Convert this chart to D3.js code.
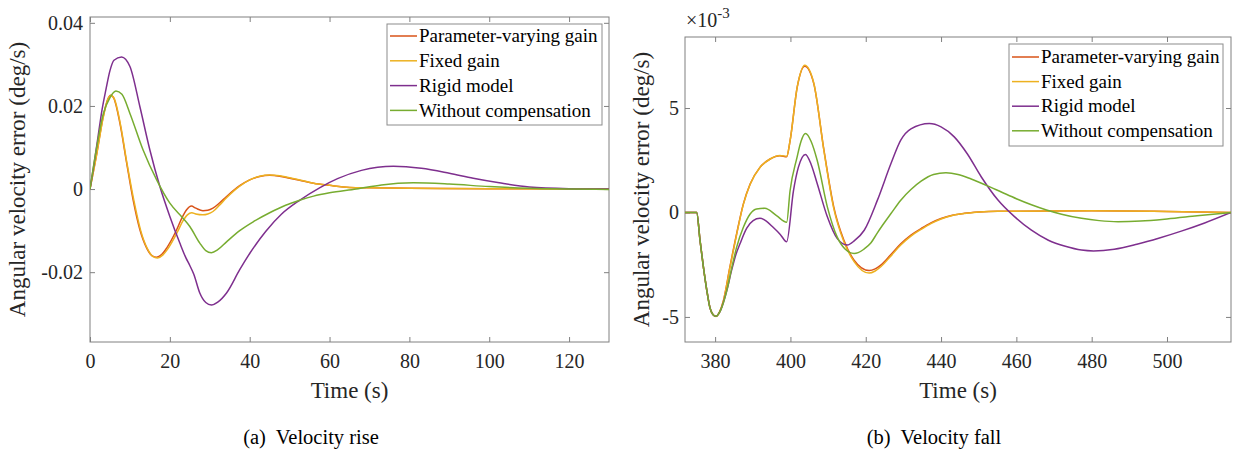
<!DOCTYPE html>
<html>
<head>
<meta charset="utf-8">
<script src="https://cdn.jsdelivr.net/npm/d3@7/dist/d3.min.js"></script>
<style>
  html, body { margin: 0; padding: 0; background: #fff; }
  svg { display: block; }
</style>
</head>
<body>
<svg id="chart" width="1234" height="455"></svg>
<script>
// ---------------- DATA ----------------
const seriesNames = ["Parameter-varying gain", "Fixed gain", "Rigid model", "Without compensation"];
const seriesColors = ["#D95319", "#EDB120", "#7E2F8E", "#77AC30"];

// (a) Velocity rise : [time (s), error (deg/s)]
const risePV = [[0,0],[1.7,0.0086],[3.3,0.0174],[4.4,0.0215],[5.2,0.0226],[6,0.0218],[7.5,0.0158],[9.2,0.0062],[10.8,-0.0026],[12.5,-0.0098],[14.2,-0.0142],[15.5,-0.016],[16.7,-0.0164],[18,-0.0157],[19.2,-0.0142],[21.7,-0.0098],[23,-0.007],[24.2,-0.005],[25.4,-0.0041],[26.5,-0.0046],[28.3,-0.0052],[29.5,-0.0051],[30.8,-0.0046],[32.5,-0.0033],[34.2,-0.0018],[37.5,0.0008],[40,0.0022],[42.5,0.003],[45,0.0033],[47.5,0.0031],[50,0.0026],[52.5,0.0021],[56,0.0014],[60,0.0009],[65,0.0004],[70,0.0003],[80,0.0002],[100,0.0001],[130,0]];
const riseFG = [[0,0],[1.7,0.0084],[3.3,0.0172],[4.4,0.0214],[5.3,0.0225],[6.1,0.0217],[7.6,0.0157],[9.3,0.006],[11,-0.0028],[12.7,-0.01],[14.4,-0.0144],[15.7,-0.0162],[16.9,-0.0166],[18.2,-0.0159],[19.4,-0.0145],[21.9,-0.0103],[23.2,-0.0078],[24.4,-0.0062],[25.5,-0.0057],[26.5,-0.006],[28.3,-0.0062],[29.5,-0.006],[30.8,-0.0054],[32.5,-0.0038],[34.2,-0.0021],[37.5,0.0007],[40,0.0022],[42.5,0.0031],[45,0.0034],[47.5,0.0032],[50,0.0027],[52.5,0.0022],[56,0.0014],[60,0.0009],[65,0.0004],[70,0.0003],[80,0.0002],[100,0.0001],[130,0]];
const riseRigid = [[0,0],[1,0.006],[2,0.0125],[3,0.019],[4,0.024],[5,0.0285],[6,0.031],[7.9,0.0318],[10,0.0295],[12.5,0.0198],[15,0.0094],[17.5,0.0006],[20,-0.0066],[22.5,-0.013],[24,-0.0165],[25,-0.0184],[26,-0.0205],[27.5,-0.025],[29,-0.0273],[30.4,-0.0279],[32,-0.0272],[34.2,-0.025],[37.5,-0.0194],[40,-0.0155],[44,-0.0102],[48,-0.006],[52.5,-0.0027],[57.5,0.0003],[62,0.0025],[68,0.0045],[76,0.0055],[83,0.005],[90,0.0038],[96,0.0026],[102.5,0.0015],[110,0.0005],[120,0.0001],[130,0]];
const riseWithout = [[0,0],[1.7,0.0102],[3.3,0.018],[5,0.022],[6.5,0.0236],[8,0.0228],[10,0.0182],[13.3,0.0094],[16.7,0.0022],[20,-0.0034],[23.3,-0.007],[25,-0.009],[27.5,-0.013],[29,-0.0148],[30.4,-0.0153],[32,-0.0146],[34.2,-0.0127],[37.5,-0.01],[41,-0.0078],[45,-0.0057],[49,-0.0039],[52.5,-0.0027],[56,-0.0017],[60,-0.0009],[66.7,0],[73,0.001],[81,0.0015],[90,0.0012],[100,0.0006],[110,0.0002],[120,0],[130,-0.0001]];

// (b) Velocity fall : [time (s), error (x10^-3 deg/s)]
const fallPV = [[372,0],[375.1,0],[376,-1.35],[376.9,-2.63],[377.8,-3.74],[378.6,-4.54],[379.4,-4.88],[380.2,-4.97],[381.2,-4.75],[382.2,-4.22],[383.9,-2.63],[385.7,-1.03],[387.5,0.41],[389.3,1.36],[391.9,2.16],[394.6,2.56],[397.2,2.72],[399,2.67],[399.9,3.43],[401.8,6.0],[403.8,7.0],[406.2,6.17],[408.9,2.98],[411.5,0.27],[414.2,-1.33],[416.9,-2.28],[420.9,-2.78],[422.5,-2.7],[424,-2.52],[426.5,-2.05],[429.3,-1.5],[432,-1.08],[434.7,-0.77],[437.3,-0.5],[440,-0.29],[443,-0.13],[446.2,-0.04],[450,0.02],[455,0.06],[480,0.08],[500,0.05],[517,0]];
const fallFG = [[372,0],[375.1,0],[376,-1.35],[376.9,-2.63],[377.8,-3.74],[378.6,-4.54],[379.4,-4.88],[380.2,-4.98],[381.2,-4.76],[382.2,-4.24],[383.9,-2.66],[385.7,-1.06],[387.5,0.39],[389.3,1.35],[391.9,2.15],[394.6,2.56],[397.2,2.73],[399,2.69],[399.9,3.43],[401.8,6.0],[403.8,7.05],[406.2,6.2],[408.9,2.95],[411.5,0.2],[414.2,-1.4],[416.9,-2.35],[420.9,-2.9],[422.5,-2.8],[424,-2.6],[426.5,-2.12],[429.3,-1.56],[432,-1.13],[434.7,-0.81],[437.3,-0.53],[440,-0.31],[443,-0.14],[446.2,-0.05],[450,0.02],[455,0.06],[480,0.08],[500,0.05],[517,0]];
const fallRigid = [[372,0],[375.1,0],[376,-1.35],[376.9,-2.63],[377.8,-3.74],[378.6,-4.54],[379.4,-4.88],[380.2,-4.97],[381.5,-4.66],[383.1,-3.74],[384.4,-2.75],[385.5,-2.02],[386.6,-1.5],[388.4,-0.75],[390.1,-0.39],[391.9,-0.28],[393.5,-0.4],[395.4,-0.71],[397.3,-1.05],[399,-1.4],[400.8,1.04],[402.1,2.16],[404,2.78],[405.5,2.3],[407.1,1.39],[409.8,-0.21],[412.4,-1.24],[415.1,-1.56],[417,-1.35],[419.6,-0.85],[423.1,0.59],[426.7,2.34],[429.3,3.46],[432,4.0],[436.9,4.26],[440,4.1],[443.5,3.62],[447,2.8],[450.7,1.7],[455,0.62],[459.5,-0.2],[464,-0.85],[468.5,-1.33],[473,-1.62],[477.3,-1.8],[480.5,-1.84],[486,-1.76],[492,-1.52],[498,-1.22],[504,-0.88],[510,-0.5],[517,0]];
const fallWithout = [[372,0],[375.1,0],[376,-1.35],[376.9,-2.63],[377.8,-3.74],[378.6,-4.54],[379.4,-4.88],[380.2,-4.97],[381.5,-4.66],[383.1,-3.74],[384.4,-2.66],[385.7,-1.67],[387.5,-0.71],[389.3,-0.07],[391,0.17],[393.2,0.2],[396.3,-0.15],[399,-0.47],[399.9,1.04],[401.7,2.6],[402.8,3.4],[404,3.78],[405.5,3.4],[407.1,2.5],[409.8,0.27],[412.4,-1.17],[414.5,-1.75],[416.9,-1.96],[418,-1.92],[419.5,-1.76],[421.4,-1.45],[423,-1.0],[424.5,-0.6],[426.7,-0.05],[429.3,0.59],[432,1.1],[434.7,1.5],[438,1.82],[441.3,1.9],[444.5,1.82],[448,1.6],[452,1.3],[456,0.98],[460,0.66],[464,0.37],[468,0.12],[472,-0.08],[477.3,-0.28],[482,-0.39],[487,-0.44],[493,-0.41],[500,-0.31],[508,-0.16],[517,0]];

// Axis ticks
const riseXTicks = [0, 20, 40, 60, 80, 100, 120];
const riseYTicks = [-0.02, 0, 0.02, 0.04];
const riseYTickLabels = ["-0.02", "0", "0.02", "0.04"];
const fallXTicks = [380, 400, 420, 440, 460, 480, 500];
const fallYTicks = [-5, 0, 5];
const fallYTickLabels = ["-5", "0", "5"];

// Texts
const yLabelText = "Angular velocity error (deg/s)";
const xLabelText = "Time (s)";
const captions = ["(a)  Velocity rise", "(b)  Velocity fall"];

// ---------------- DRAWING ----------------
const FONT = "'Liberation Serif', 'Times New Roman', serif";
const AXIS_COLOR = "#808080";
const TEXT_COLOR = "#262626";
const svg = d3.select("#chart");

function panel(cfg, idx) {
  const x = d3.scaleLinear().domain(cfg.xDomain).range([cfg.box.x0, cfg.box.x1]);
  const y = d3.scaleLinear().domain(cfg.yDomain).range([cfg.box.y1, cfg.box.y0]);
  const g = svg.append("g");

  const clipId = "clip" + idx;
  svg.append("clipPath").attr("id", clipId).append("rect")
    .attr("x", cfg.box.x0).attr("y", cfg.box.y0)
    .attr("width", cfg.box.x1 - cfg.box.x0).attr("height", cfg.box.y1 - cfg.box.y0);

  const tl = 5;
  const bottom = d3.axisBottom(x).tickValues(cfg.xTicks).tickSizeInner(-tl).tickSizeOuter(0).tickPadding(12).tickFormat(d3.format("d"));
  const top = d3.axisTop(x).tickValues(cfg.xTicks).tickSizeInner(-tl).tickSizeOuter(0).tickFormat("");
  const left = d3.axisLeft(y).tickValues(cfg.yTicks).tickSizeInner(-tl).tickSizeOuter(0).tickPadding(cfg.yPad)
    .tickFormat((d, i) => cfg.yTickLabels[i]);
  const right = d3.axisRight(y).tickValues(cfg.yTicks).tickSizeInner(-tl).tickSizeOuter(0).tickFormat("");

  const axes = [
    g.append("g").attr("transform", `translate(0,${cfg.box.y1})`).call(bottom),
    g.append("g").attr("transform", `translate(0,${cfg.box.y0})`).call(top),
    g.append("g").attr("transform", `translate(${cfg.box.x0},0)`).call(left),
    g.append("g").attr("transform", `translate(${cfg.box.x1},0)`).call(right)
  ];
  axes.forEach(a => {
    a.attr("font-family", FONT).attr("font-size", 20);
    a.select(".domain").remove();
    a.selectAll(".tick line").attr("stroke", AXIS_COLOR).attr("stroke-width", 1);
    a.selectAll(".tick text").attr("fill", TEXT_COLOR).style("font-family", FONT).style("font-size", "20px");
  });

  g.append("rect")
    .attr("x", cfg.box.x0).attr("y", cfg.box.y0)
    .attr("width", cfg.box.x1 - cfg.box.x0).attr("height", cfg.box.y1 - cfg.box.y0)
    .attr("fill", "none").attr("stroke", AXIS_COLOR).attr("stroke-width", 1);

  const line = d3.line().x(d => x(d[0])).y(d => y(d[1])).curve(d3.curveMonotoneX);
  const lg = g.append("g").attr("clip-path", `url(#${clipId})`);
  cfg.series.forEach((s, i) => {
    lg.append("path").datum(s).attr("d", line)
      .attr("fill", "none").attr("stroke", seriesColors[i]).attr("stroke-width", 1.5)
      .attr("stroke-linejoin", "round");
  });

  g.append("text")
    .attr("x", (cfg.box.x0 + cfg.box.x1) / 2).attr("y", 398)
    .attr("text-anchor", "middle").attr("fill", TEXT_COLOR)
    .style("font-family", FONT).style("font-size", "23px")
    .text(xLabelText);
  g.append("text")
    .attr("transform", `translate(${cfg.yLabelX},${(cfg.box.y0 + cfg.box.y1) / 2}) rotate(-90)`)
    .attr("text-anchor", "middle").attr("fill", TEXT_COLOR)
    .style("font-family", FONT).style("font-size", "23px")
    .text(yLabelText);

  g.append("text")
    .attr("x", cfg.captionX).attr("y", 444)
    .attr("text-anchor", "middle").attr("fill", "#000")
    .style("font-family", FONT).style("font-size", "20.5px")
    .style("white-space", "pre")
    .text(cfg.caption);

  const L = cfg.legend;
  const leg = g.append("g");
  leg.append("rect").attr("x", L.x).attr("y", L.y).attr("width", L.w).attr("height", L.h)
    .attr("fill", "#fff").attr("stroke", "#8c8c8c").attr("stroke-width", 1);
  seriesNames.forEach((name, i) => {
    const cy = L.y + L.first + i * L.step;
    leg.append("line").attr("x1", L.x + 3).attr("x2", L.x + 30).attr("y1", cy).attr("y2", cy)
      .attr("stroke", seriesColors[i]).attr("stroke-width", 1.5);
    leg.append("text").attr("x", L.x + 32).attr("y", cy).attr("dy", "0.33em")
      .attr("fill", "#000").style("font-family", FONT).style("font-size", "19px")
      .text(name);
  });
  return { x, y, g };
}

panel({
  box: { x0: 90, x1: 609, y0: 17, y1: 342 },
  xDomain: [0, 130], yDomain: [-0.0368, 0.0414],
  xTicks: riseXTicks, yTicks: riseYTicks, yTickLabels: riseYTickLabels, yPad: 7,
  series: [risePV, riseFG, riseRigid, riseWithout],
  yLabelX: 25,
  caption: captions[0], captionX: 311,
  legend: { x: 387, y: 24, w: 215, h: 101, first: 12, step: 24.8 }
}, 0);

const p2 = panel({
  box: { x0: 685, x1: 1231, y0: 37, y1: 342 },
  xDomain: [372, 517], yDomain: [-6.2, 8.4],
  xTicks: fallXTicks, yTicks: fallYTicks, yTickLabels: fallYTickLabels, yPad: 6,
  series: [fallPV, fallFG, fallRigid, fallWithout],
  yLabelX: 649,
  caption: captions[1], captionX: 934,
  legend: { x: 1009, y: 44, w: 214, h: 102, first: 13, step: 24.6 }
}, 1);

const expo = p2.g.append("text").attr("x", 686).attr("y", 27).attr("fill", TEXT_COLOR)
  .style("font-family", FONT).style("font-size", "20px");
expo.append("tspan").text("\u00d710");
expo.append("tspan").attr("dy", -9).style("font-size", "15px").text("-3");
</script>
</body>
</html>
